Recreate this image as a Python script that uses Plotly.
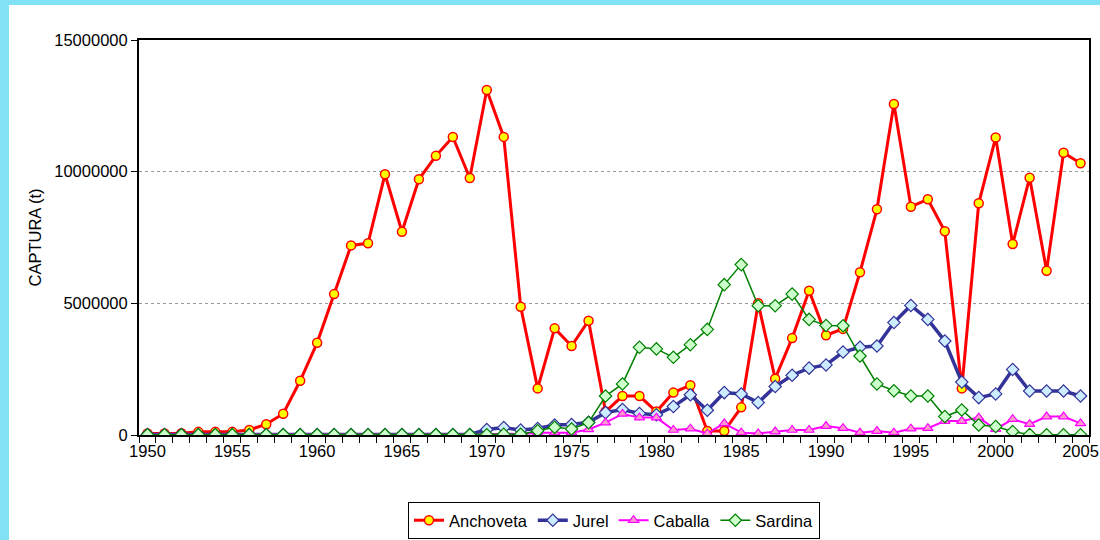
import plotly.graph_objects as go

years = list(range(1950, 2006))

anchoveta = [0.06, 0.06, 0.07, 0.12, 0.12, 0.12, 0.19, 0.41, 0.81, 2.06,
             3.50, 5.35, 7.20, 7.28, 9.90, 7.72, 9.71, 10.60, 11.32, 9.76,
             13.10, 11.32, 4.87, 1.77, 4.05, 3.38, 4.34, 0.89, 1.48, 1.48,
             0.89, 1.61, 1.89, 0.15, 0.15, 1.05, 5.00, 2.14, 3.68, 5.48,
             3.79, 4.03, 6.18, 8.57, 12.57, 8.67, 8.95, 7.74, 1.77, 8.80,
             11.30, 7.25, 9.77, 6.24, 10.72, 10.32]

jurel = [0.02] * 20 + [0.21, 0.28, 0.19, 0.25, 0.38, 0.40, 0.48, 0.85, 0.97, 0.82,
                       0.77, 1.08, 1.53, 0.94, 1.61, 1.56, 1.23, 1.84, 2.27, 2.54,
                       2.66, 3.15, 3.33, 3.38, 4.27, 4.92, 4.39, 3.57, 2.01, 1.42,
                       1.56, 2.49, 1.67, 1.67, 1.67, 1.48]

caballa = [0.01] * 20 + [0.03, 0.05, 0.04, 0.09, 0.09, 0.09, 0.21, 0.47, 0.80, 0.66,
                         0.66, 0.19, 0.24, 0.06, 0.44, 0.09, 0.06, 0.13, 0.19, 0.19,
                         0.34, 0.26, 0.09, 0.15, 0.09, 0.24, 0.26, 0.53, 0.53, 0.66,
                         0.22, 0.60, 0.41, 0.70, 0.70, 0.44]

sardina = [0.01] * 20 + [0.01, 0.03, 0.03, 0.16, 0.29, 0.23, 0.47, 1.48, 1.94, 3.33,
                         3.27, 2.95, 3.43, 4.01, 5.71, 6.47, 4.91, 4.91, 5.35, 4.39,
                         4.16, 4.15, 3.00, 1.94, 1.68, 1.48, 1.48, 0.70, 0.95, 0.38,
                         0.32, 0.13, 0.02, 0.01, 0.01, 0.01]

y_ticks = [0, 5000000, 10000000, 15000000]
x_ticks = [1950, 1955, 1960, 1965, 1970, 1975, 1980, 1985, 1990, 1995, 2000, 2005]

FONT = "Liberation Sans, Arial, sans-serif"
FS = 16.5

def mt(vals):
    return [v * 1e6 for v in vals]

fig = go.Figure()
fig.add_trace(go.Scatter(
    x=years, y=mt(anchoveta), name="Anchoveta", mode="lines+markers",
    line=dict(color="#ff0000", width=3),
    marker=dict(symbol="circle", size=9, color="#ffff00",
                line=dict(color="#ff0000", width=1.5))))
fig.add_trace(go.Scatter(
    x=years, y=mt(jurel), name="Jurel", mode="lines+markers",
    line=dict(color="#333399", width=3.5),
    marker=dict(symbol="diamond", size=9.5, color="#ccecff",
                line=dict(color="#333399", width=1.2))))
fig.add_trace(go.Scatter(
    x=years, y=mt(caballa), name="Caballa", mode="lines+markers",
    line=dict(color="#ff00ff", width=2),
    marker=dict(symbol="triangle-up", size=9, color="#ff99cc",
                line=dict(color="#ff00ff", width=1.2))))
fig.add_trace(go.Scatter(
    x=years, y=mt(sardina), name="Sardina", mode="lines+markers",
    line=dict(color="#008000", width=1.5),
    marker=dict(symbol="diamond", size=9.5, color="#ccffcc",
                line=dict(color="#008000", width=1.2))))

W, H = 1100, 540
L, R, T, B = 139, 11, 40, 105
pw, ph = W - L - R, H - T - B

def px_x(p):
    return (p - L) / pw

def px_y(p):
    return (H - B - p) / ph

cyan = "#80e2f4"
fig.add_shape(type="rect", xref="paper", yref="paper", layer="above",
              x0=px_x(0), x1=px_x(9), y0=px_y(H), y1=px_y(0),
              fillcolor=cyan, line=dict(width=0))
fig.add_shape(type="rect", xref="paper", yref="paper", layer="above",
              x0=px_x(0), x1=px_x(W), y0=px_y(5), y1=px_y(0),
              fillcolor=cyan, line=dict(width=0))

fig.update_layout(
    width=W, height=H,
    margin=dict(l=L, r=R, t=T, b=B, autoexpand=False),
    paper_bgcolor="white", plot_bgcolor="white",
    font=dict(family=FONT, size=FS, color="black"),
    showlegend=True,
    legend=dict(orientation="h", x=0.5, xanchor="center", y=px_y(502), yanchor="top",
                bordercolor="black", borderwidth=1, bgcolor="white",
                font=dict(family=FONT, size=FS, color="black"),
                itemwidth=30, tracegroupgap=0),
    xaxis=dict(range=[1949.5, 2005.5], tickmode="array", tickvals=x_ticks,
               ticktext=[str(v) for v in x_ticks], ticks="",
               showgrid=False, zeroline=False,
               showline=True, linecolor="black", linewidth=2, mirror=True,
               tickfont=dict(family=FONT, size=FS, color="black"),
               minor=dict(ticks="outside", tick0=1949.5, dtick=1, ticklen=6,
                          tickcolor="black", tickwidth=1, showgrid=False)),
    yaxis=dict(range=[0, 15000000], tickmode="array", tickvals=y_ticks,
               ticktext=[str(v) for v in y_ticks],
               ticks="outside", ticklen=6, tickcolor="black", tickwidth=1,
               showgrid=True, gridcolor="#999999", griddash="dot", gridwidth=1,
               zeroline=False,
               showline=True, linecolor="black", linewidth=2, mirror=True,
               tickfont=dict(family=FONT, size=FS, color="black"),
               title=dict(text="CAPTURA (t)", standoff=9,
                          font=dict(family=FONT, size=FS, color="black"))),
)

fig.write_html("out.html",
               config={"displayModeBar": False},
               post_script="document.body.style.margin='0px';"
                           "document.body.style.overflow='hidden';")
